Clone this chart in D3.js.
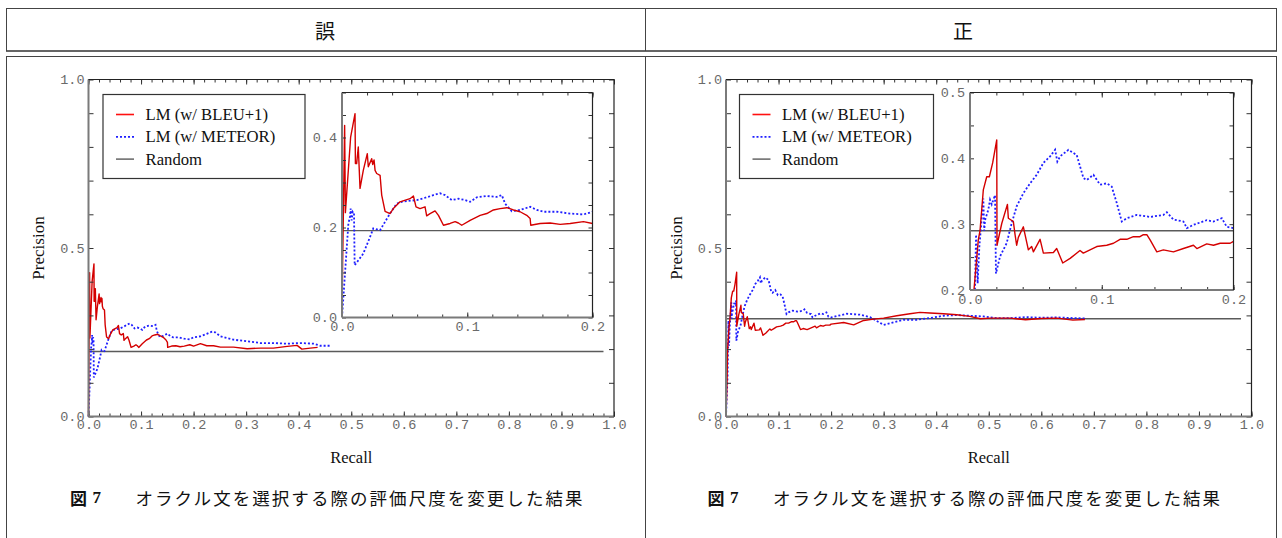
<!DOCTYPE html>
<html>
<head>
<meta charset="utf-8">
<script src="https://cdn.jsdelivr.net/npm/d3@7"></script>
<style>
  body { margin: 0; background: #fff; }
  svg { display: block; }
</style>
</head>
<body>
<script>
// Precision–recall curves: [recall, precision]
const leftBleu = [
  [0,0],[0.0005,0.12],[0.0011,0.231],[0.0021,0.427],[0.0027,0.233],[0.0069,0.401],[0.0104,0.453],
  [0.0107,0.342],[0.0117,0.342],[0.013,0.379],[0.0144,0.287],[0.017,0.327],[0.0202,0.364],[0.021,0.335],
  [0.0237,0.353],[0.0245,0.340],[0.0256,0.350],[0.0264,0.327],[0.0277,0.320],[0.0304,0.316],[0.0317,0.272],
  [0.0344,0.236],[0.0383,0.231],[0.041,0.242],[0.0463,0.257],[0.0543,0.264],[0.057,0.270],[0.0591,0.246],
  [0.0623,0.242],[0.0663,0.246],[0.0676,0.226],[0.0703,0.231],[0.0743,0.237],[0.077,0.227],[0.081,0.205],
  [0.0863,0.209],[0.0903,0.213],[0.0929,0.210],[0.0956,0.205],[0.1023,0.216],[0.1103,0.227],[0.1156,0.231],
  [0.1209,0.239],[0.1262,0.242],[0.1316,0.244],[0.1369,0.239],[0.1422,0.235],[0.1475,0.227],[0.1502,0.220],
  [0.1507,0.205],[0.1582,0.209],[0.1662,0.210],[0.1742,0.207],[0.1822,0.209],[0.1928,0.213],[0.2,0.209],
  [0.213,0.216],[0.225,0.210],[0.238,0.210],[0.251,0.206],[0.276,0.206],[0.302,0.201],[0.327,0.203],
  [0.352,0.203],[0.378,0.208],[0.397,0.211],[0.406,0.200],[0.422,0.203],[0.436,0.205]
];
const leftMeteor = [
  [0,0],[0.0024,0.098],[0.0051,0.209],[0.0064,0.224],[0.0069,0.242],[0.0077,0.216],[0.0085,0.235],
  [0.0096,0.231],[0.0101,0.116],[0.017,0.142],[0.0224,0.179],[0.025,0.198],[0.0304,0.194],[0.0383,0.231],
  [0.0437,0.253],[0.0477,0.257],[0.053,0.259],[0.0597,0.261],[0.0676,0.267],[0.073,0.272],[0.0783,0.276],
  [0.0823,0.272],[0.0876,0.261],[0.0929,0.264],[0.0983,0.261],[0.1023,0.257],[0.1076,0.267],[0.1156,0.270],
  [0.1236,0.268],[0.1276,0.272],[0.1302,0.253],[0.1356,0.236],[0.1422,0.239],[0.1502,0.246],[0.1555,0.239],
  [0.1609,0.235],[0.1715,0.235],[0.1822,0.231],[0.1928,0.229],[0.2,0.235],
  [0.213,0.238],[0.225,0.245],[0.235,0.252],[0.241,0.250],[0.251,0.238],[0.276,0.228],[0.302,0.223],
  [0.327,0.218],[0.352,0.218],[0.378,0.216],[0.403,0.218],[0.429,0.216],[0.441,0.210],[0.460,0.210]
];
const rightBleu = [
  [0,0],[0.002,0.1],[0.003,0.2],[0.0063,0.276],[0.0076,0.29],[0.0101,0.352],[0.0127,0.372],[0.0147,0.372],
  [0.0172,0.393],[0.0203,0.428],[0.0205,0.268],[0.0241,0.301],[0.0284,0.330],[0.0291,0.309],[0.0329,0.304],
  [0.0342,0.284],[0.0354,0.268],[0.0367,0.28],[0.0405,0.296],[0.0443,0.261],[0.0468,0.266],[0.0481,0.258],
  [0.0532,0.277],[0.0557,0.256],[0.0633,0.257],[0.0658,0.263],[0.0704,0.241],[0.076,0.248],[0.0835,0.26],
  [0.086,0.256],[0.0911,0.261],[0.0962,0.266],[0.1038,0.268],[0.1089,0.271],[0.1139,0.277],[0.119,0.277],
  [0.124,0.281],[0.129,0.281],[0.1316,0.284],[0.1342,0.284],[0.1367,0.276],[0.1418,0.258],[0.1468,0.261],
  [0.1544,0.258],[0.162,0.263],[0.1696,0.268],[0.1722,0.263],[0.1797,0.27],[0.1848,0.268],[0.1899,0.271],
  [0.1975,0.271],[0.2,0.274],
  [0.224,0.279],[0.243,0.272],[0.262,0.285],[0.281,0.289],[0.30,0.292],[0.325,0.299],[0.35,0.305],
  [0.369,0.309],[0.388,0.307],[0.414,0.305],[0.439,0.302],[0.464,0.297],[0.484,0.29],[0.503,0.292],
  [0.541,0.292],[0.57,0.287],[0.60,0.291],[0.63,0.292],[0.66,0.286],[0.683,0.288]
];
const rightMeteor = [
  [0,0],[0.003,0.12],[0.0046,0.284],[0.0058,0.21],[0.0071,0.266],[0.0089,0.309],[0.0101,0.339],[0.0108,0.29],
  [0.0114,0.306],[0.0139,0.322],[0.0152,0.337],[0.0165,0.330],[0.019,0.344],[0.0197,0.225],[0.0228,0.251],
  [0.0278,0.271],[0.0316,0.301],[0.0354,0.327],[0.0405,0.347],[0.0456,0.362],[0.0506,0.375],[0.0557,0.393],
  [0.0608,0.403],[0.0646,0.413],[0.0663,0.395],[0.0684,0.403],[0.0747,0.413],[0.081,0.405],[0.0861,0.37],
  [0.0886,0.367],[0.0937,0.375],[0.0987,0.36],[0.1038,0.362],[0.1076,0.357],[0.1114,0.332],[0.1152,0.304],
  [0.119,0.309],[0.1266,0.314],[0.1367,0.311],[0.1468,0.314],[0.1494,0.318],[0.1544,0.307],[0.162,0.304],
  [0.1646,0.294],[0.1696,0.299],[0.1797,0.306],[0.1848,0.304],[0.1911,0.309],[0.1949,0.296],[0.2,0.294],
  [0.23,0.305],[0.255,0.302],[0.274,0.295],[0.30,0.272],[0.312,0.277],[0.338,0.287],[0.363,0.287],
  [0.388,0.292],[0.414,0.299],[0.439,0.301],[0.464,0.299],[0.49,0.297],[0.515,0.292],[0.541,0.292],
  [0.57,0.295],[0.60,0.293],[0.63,0.294],[0.66,0.292],[0.683,0.291]
];
const randomLeft = 0.193;
const randomRight = 0.29;
const randomEnd = 0.98;

// Text and ticks
const headers = ["誤", "正"];
const legendLabels = ["LM (w/ BLEU+1)", "LM (w/ METEOR)", "Random"];
const captionNum = "図 7";
const captionText = "オラクル文を選択する際の評価尺度を変更した結果";
const mainXTicks = [0, 0.1, 0.2, 0.3, 0.4, 0.5, 0.6, 0.7, 0.8, 0.9, 1.0];
const mainYTicks = [0, 0.5, 1.0];
const insetXTicks = [0, 0.1, 0.2];
const leftInsetYTicks = [0, 0.2, 0.4];
const rightInsetYTicks = [0.2, 0.3, 0.4, 0.5];

const W = 1282, H = 538;
const mono = "'Liberation Mono', 'DejaVu Sans Mono', monospace";
const serif = "'Liberation Serif', 'DejaVu Serif', serif";
const cjk = "'Noto Sans CJK JP', sans-serif";
const fmt = d3.format(".1f");
const RED = "#d40000", BLUE = "#1f1fff", GRAY = "#5a5a5a";

const svg = d3.select("body").append("svg").attr("width", W).attr("height", H);
svg.append("rect").attr("width", W).attr("height", H).attr("fill", "#fff");

// table rules
const T = svg.append("g").attr("stroke", "#444").attr("fill", "none");
T.append("line").attr("x1", 6).attr("x2", 1277).attr("y1", 8.5).attr("y2", 8.5).attr("stroke-width", 1);
T.append("line").attr("x1", 6).attr("x2", 1277).attr("y1", 51).attr("y2", 51).attr("stroke-width", 2).attr("stroke", "#666");
T.append("line").attr("x1", 6).attr("x2", 1277).attr("y1", 56.5).attr("y2", 56.5).attr("stroke-width", 1);
[6.5, 645.5, 1276.5].forEach(x => {
  T.append("line").attr("x1", x).attr("x2", x).attr("y1", 8.5).attr("y2", 51);
  T.append("line").attr("x1", x).attr("x2", x).attr("y1", 56.5).attr("y2", H);
});

const panels = [
  { header: headers[0], cx: 325, mx0: 88.5, mx1: 614,
    inset: { x0: 342, x1: 592.5, yb: 317.5, yt: 92.5, dom: [0, 0.5], yTicks: leftInsetYTicks },
    legend: { x: 103, y: 94.5, w: 202 }, bleu: leftBleu, meteor: leftMeteor, random: randomLeft },
  { header: headers[1], cx: 963, mx0: 726, mx1: 1251.5,
    inset: { x0: 970, x1: 1233.5, yb: 290, yt: 92.5, dom: [0.2, 0.5], yTicks: rightInsetYTicks },
    legend: { x: 739.5, y: 94.5, w: 194 }, bleu: rightBleu, meteor: rightMeteor, random: randomRight }
];

function rangeStep(a, b, s) {
  const n = Math.round((b - a) / s);
  return d3.range(n + 1).map(i => +(a + i * s).toFixed(4));
}

// draws a boxed frame with inward ticks on all four sides
function frame(g, x, y, cfg) {
  const [xl, xr] = x.range(), [yb, yt] = y.range();
  const put = (axis, tx, ty) => {
    const a = g.append("g").attr("transform", `translate(${tx},${ty})`).call(axis);
    a.select(".domain").remove();
    a.selectAll("line").attr("stroke", "#333").attr("stroke-width", 1);
    a.attr("font-family", mono).attr("font-size", cfg.fs).attr("color", "#6a6a6a");
    return a;
  };
  const blank = () => "";
  put(d3.axisBottom(x).tickValues(cfg.xMinor).tickSizeInner(-3).tickSizeOuter(0).tickFormat(blank), 0, yb);
  put(d3.axisTop(x).tickValues(cfg.xMinor).tickSizeInner(-3).tickSizeOuter(0).tickFormat(blank), 0, yt);
  put(d3.axisBottom(x).tickValues(cfg.xMajor).tickSizeInner(-5).tickSizeOuter(0).tickFormat(blank), 0, yb);
  put(d3.axisTop(x).tickValues(cfg.xMajor).tickSizeInner(-5).tickSizeOuter(0).tickFormat(blank), 0, yt);
  put(d3.axisLeft(y).tickValues(cfg.yMinor).tickSizeInner(-cfg.yt).tickSizeOuter(0).tickFormat(blank), xl, 0);
  put(d3.axisRight(y).tickValues(cfg.yMinor).tickSizeInner(-cfg.yt).tickSizeOuter(0).tickFormat(blank), xr, 0);
  // labels
  const bx = put(d3.axisBottom(x).tickValues(cfg.xLabels).tickSize(0).tickPadding(cfg.xPad).tickFormat(fmt), 0, yb);
  bx.selectAll("text").attr("dy", "0.71em");
  put(d3.axisLeft(y).tickValues(cfg.yLabels).tickSize(0).tickPadding(cfg.yPad).tickFormat(fmt), xl, 0);
  // frame lines
  g.append("line").attr("x1", xl).attr("x2", xl).attr("y1", yb).attr("y2", yt).attr("stroke", "#7a7a7a").attr("stroke-width", 2);
  g.append("line").attr("x1", xl).attr("x2", xr).attr("y1", yb).attr("y2", yb).attr("stroke", "#7a7a7a").attr("stroke-width", 2);
  g.append("line").attr("x1", xl).attr("x2", xr).attr("y1", yt).attr("y2", yt).attr("stroke", "#222").attr("stroke-width", 1.2);
  g.append("line").attr("x1", xr).attr("x2", xr).attr("y1", yb).attr("y2", yt).attr("stroke", "#222").attr("stroke-width", 1.2);
}

function curves(g, x, y, p, rx0, rx1, widths) {
  const line = d3.line().x(d => x(d[0])).y(d => y(d[1]));
  g.append("line").attr("x1", x(rx0)).attr("x2", x(rx1)).attr("y1", y(p.random)).attr("y2", y(p.random))
    .attr("stroke", GRAY).attr("stroke-width", widths.r);
  g.append("path").datum(p.meteor).attr("d", line).attr("fill", "none").attr("stroke", BLUE)
    .attr("stroke-width", widths.b).attr("stroke-dasharray", "2,2");
  g.append("path").datum(p.bleu).attr("d", line).attr("fill", "none").attr("stroke", RED)
    .attr("stroke-width", widths.c).attr("stroke-linejoin", "round");
}

panels.forEach((p, i) => {
  // header cell
  svg.append("text").attr("x", p.cx).attr("y", 30).attr("text-anchor", "middle")
    .attr("dominant-baseline", "central").attr("font-family", cjk).attr("font-size", 20)
    .attr("fill", "#111").text(p.header);

  const g = svg.append("g");
  const x = d3.scaleLinear().domain([0, 1]).range([p.mx0, p.mx1]);
  const y = d3.scaleLinear().domain([0, 1]).range([416.5, 79.5]);

  curves(g, x, y, p, 0, randomEnd, { r: 1.6, b: 1.8, c: 1.4 });
  frame(g, x, y, {
    xMinor: rangeStep(0, 1, 0.02), xMajor: mainXTicks, yMinor: rangeStep(0, 1, 0.1), yt: 5,
    xLabels: mainXTicks, yLabels: mainYTicks, xPad: 3, yPad: 4, fs: 13.5
  });

  // axis titles
  g.append("text").attr("transform", `translate(${p.mx0 - 50},248) rotate(-90)`)
    .attr("text-anchor", "middle").attr("dominant-baseline", "central")
    .attr("font-family", serif).attr("font-size", 17).attr("fill", "#111").text("Precision");
  g.append("text").attr("x", (p.mx0 + p.mx1) / 2).attr("y", 457).attr("text-anchor", "middle")
    .attr("dominant-baseline", "central").attr("font-family", serif).attr("font-size", 16.5)
    .attr("fill", "#111").text("Recall");

  // zoomed inset over the low-recall region
  const ins = p.inset;
  const gi = svg.append("g");
  gi.append("rect").attr("x", ins.x0).attr("y", ins.yt).attr("width", ins.x1 - ins.x0)
    .attr("height", ins.yb - ins.yt).attr("fill", "#fff");
  const xi = d3.scaleLinear().domain([0, 0.2]).range([ins.x0, ins.x1]);
  const yi = d3.scaleLinear().domain(ins.dom).range([ins.yb, ins.yt]);
  const clipId = "clip" + i;
  gi.append("clipPath").attr("id", clipId).append("rect").attr("x", ins.x0).attr("y", ins.yt)
    .attr("width", ins.x1 - ins.x0).attr("height", ins.yb - ins.yt);
  const gc = gi.append("g").attr("clip-path", `url(#${clipId})`);
  curves(gc, xi, yi, p, 0, 0.2, { r: 1.4, b: 1.8, c: 1.4 });
  frame(gi, xi, yi, {
    xMinor: rangeStep(0, 0.2, 0.02), xMajor: insetXTicks, yMinor: rangeStep(ins.dom[0], ins.dom[1], 0.05), yt: 4,
    xLabels: insetXTicks, yLabels: ins.yTicks, xPad: 4, yPad: 5, fs: 13.5
  });

  // legend
  const L = p.legend;
  const gl = svg.append("g");
  gl.append("rect").attr("x", L.x).attr("y", L.y).attr("width", L.w).attr("height", 84)
    .attr("fill", "#fff").attr("stroke", "#333").attr("stroke-width", 1.2);
  const samples = [
    { c: "#ff1010", dash: null, w: 1.6 },
    { c: BLUE, dash: "2,2", w: 1.8 },
    { c: GRAY, dash: null, w: 1.4 }
  ];
  legendLabels.forEach((lab, k) => {
    const cy = L.y + 20 + k * 22.3;
    const s = samples[k];
    gl.append("line").attr("x1", L.x + 13).attr("x2", L.x + 31).attr("y1", cy).attr("y2", cy)
      .attr("stroke", s.c).attr("stroke-width", s.w).attr("stroke-dasharray", s.dash);
    gl.append("text").attr("x", L.x + 42.5).attr("y", cy).attr("dominant-baseline", "central")
      .attr("font-family", serif).attr("font-size", 16.7).attr("fill", "#111").text(lab);
  });

  // figure caption
  const cx0 = p.mx0 - 18.5;
  const cap = svg.append("g").attr("fill", "#111");
  cap.append("text").attr("x", cx0).attr("y", 497).attr("dominant-baseline", "central")
    .attr("font-family", cjk).attr("font-weight", 700).attr("font-size", 17).text(captionNum.split(" ")[0]);
  cap.append("text").attr("x", cx0 + 22.5).attr("y", 497).attr("dominant-baseline", "central")
    .attr("font-family", serif).attr("font-weight", 700).attr("font-size", 17).text(captionNum.split(" ")[1]);
  cap.append("text").attr("x", cx0 + 65.5).attr("y", 497).attr("dominant-baseline", "central")
    .attr("font-family", cjk).attr("font-size", 17.5).attr("textLength", 447)
    .attr("lengthAdjust", "spacing").text(captionText);
});
</script>
</body>
</html>
